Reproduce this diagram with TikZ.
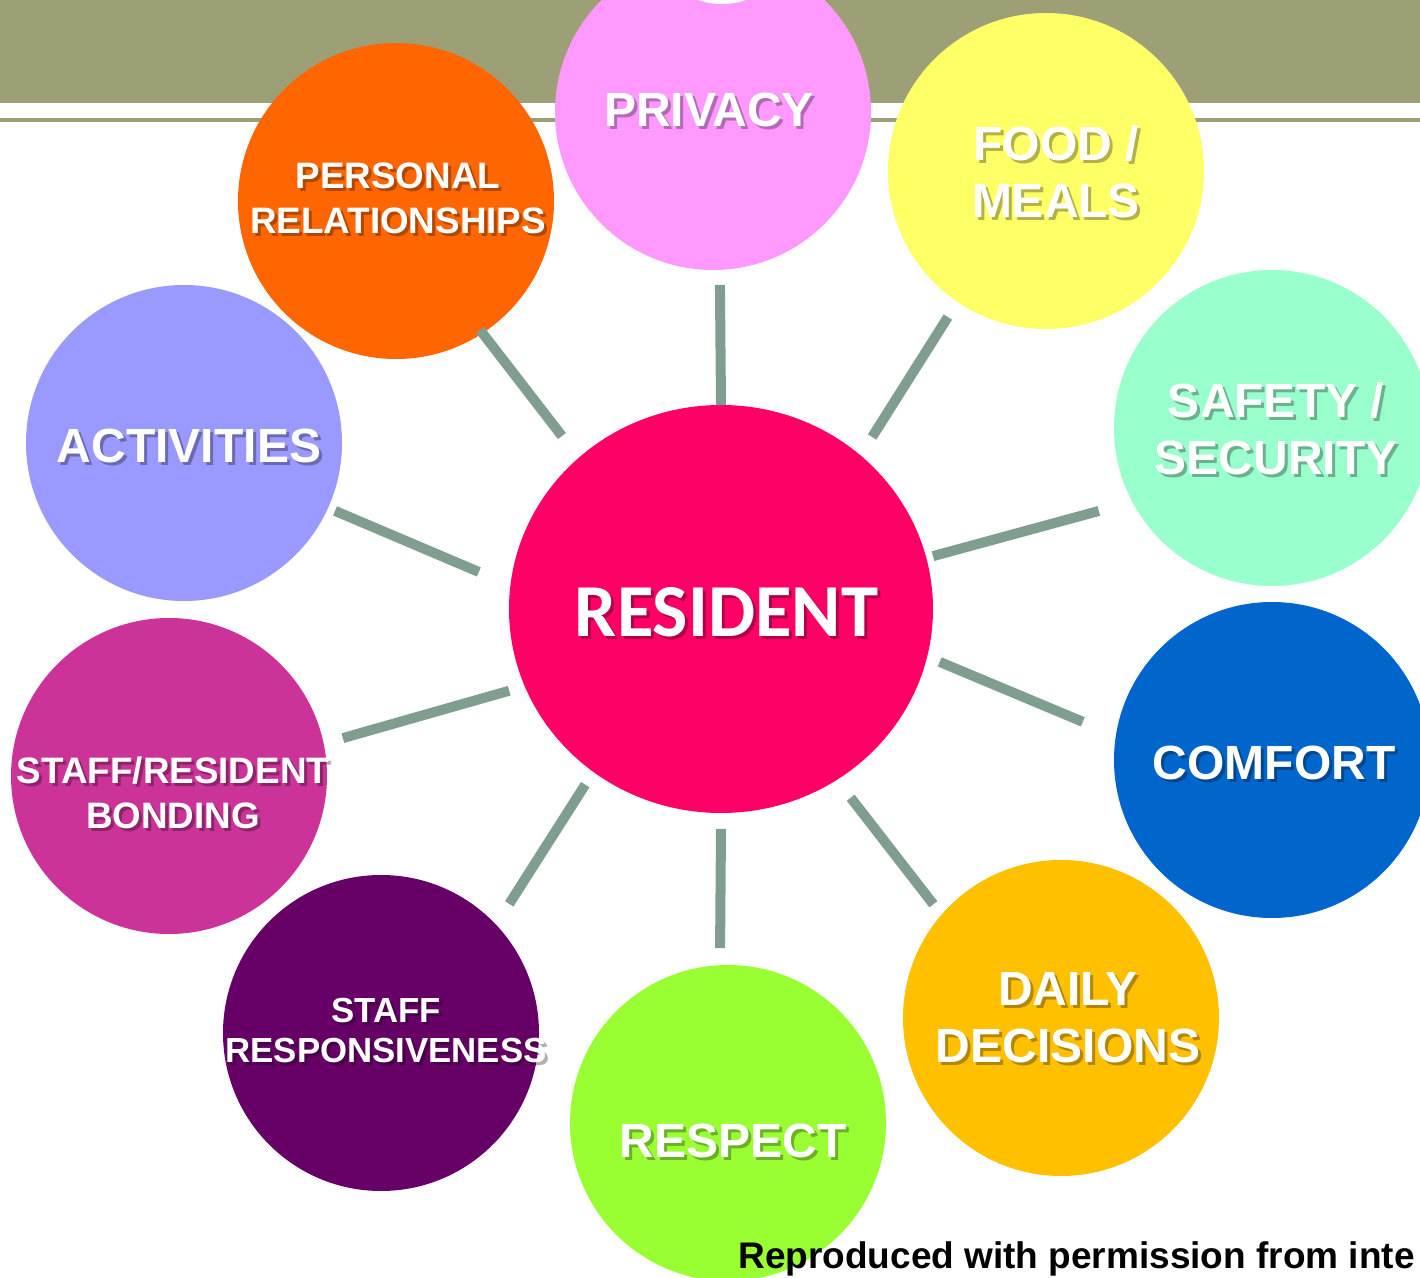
\documentclass[tikz,border=0pt]{standalone}
\usepackage{fontspec}
\setmainfont{Liberation Sans}
\newfontfamily\centrefont{Carlito}
\usetikzlibrary{shapes.geometric,calc}

\definecolor{bandolive}{RGB}{157,160,119}
\definecolor{linkgray}{RGB}{127,158,143}
\definecolor{cPrivacy}{HTML}{FF99FF}
\definecolor{cPersonal}{HTML}{FF6600}
\definecolor{cFood}{HTML}{FFFF66}
\definecolor{cSafety}{HTML}{99FFCC}
\definecolor{cActivities}{HTML}{9999FF}
\definecolor{cResident}{HTML}{FF0066}
\definecolor{cComfort}{HTML}{0066CC}
\definecolor{cBonding}{HTML}{CC3399}
\definecolor{cStaffResp}{HTML}{660066}
\definecolor{cRespect}{HTML}{99FF33}
\definecolor{cDaily}{HTML}{FFC000}

% one coloured bubble with a white caption and a soft drop shadow
% #1 name, #2 centre, #3 fill, #4 caption position, #5 caption style, #6 caption
\newcommand\bubble[6]{%
  \node[bubble,fill=#3] (#1) at (#2) {};
  \node[#5,shadowtext] (#1-shadow) at ($(#4)+(3,3)$) {#6};
  \node[#5] (#1-label) at (#4) {#6};}

\begin{document}
\begin{tikzpicture}[x=0.5pt,y=-0.5pt,
  bubble/.style={circle,minimum size=158pt,inner sep=0pt,outer sep=0pt},
  bigcap/.style={text=white,align=center,inner sep=0pt,
    font=\bfseries\fontsize{24pt}{28.5pt}\selectfont},
  smallcap/.style={text=white,align=center,inner sep=0pt,
    font=\bfseries\fontsize{18.4pt}{22.5pt}\selectfont},
  tinycap/.style={text=white,align=center,inner sep=0pt,
    font=\bfseries\fontsize{17.4pt}{20pt}\selectfont},
  shadowtext/.style={text=black,text opacity=0.3},
  link/.style={draw=linkgray,line width=5pt}]
\useasboundingbox (0,0) rectangle (1420,1278);

% header band
\fill[bandolive] (0,0) rectangle (1420,103);
\fill[bandolive] (0,118) rectangle (1420,122);

% outer bubbles
\bubble{priv}{713,112}{cPrivacy}{709,110}{bigcap}{PRIVACY}
\bubble{pers}{396,201}{cPersonal}{398,198}{smallcap}{PERSONAL\\RELATIONSHIPS}
\bubble{food}{1046,171}{cFood}{1056,172}{bigcap}{FOOD /\\MEALS}
\bubble{safe}{1272,428}{cSafety}{1276,429}{bigcap}{SAFETY /\\SECURITY}
\bubble{act}{184,443}{cActivities}{189,446}{bigcap}{ACTIVITIES}
\bubble{comf}{1272,760}{cComfort}{1274,763}{bigcap}{COMFORT}
\bubble{bond}{169,776}{cBonding}{173,793}{smallcap}{STAFF/RESIDENT\\BONDING}
\bubble{staff}{381,1033}{cStaffResp}{386,1031}{tinycap}{STAFF\\RESPONSIVENESS}
\bubble{resp}{728,1123}{cRespect}{733,1141}{bigcap}{RESPECT}
\bubble{daily}{1061,1018}{cDaily}{1068,1018}{bigcap}{DAILY\\DECISIONS}

% white cap at the top of the privacy bubble
\fill[white] (722,-12) ellipse [x radius=18pt,y radius=8pt];

% centre bubble
\node[ellipse,minimum width=212pt,minimum height=204pt,inner sep=0pt,
      outer sep=0pt,fill=cResident] (res) at (721,609) {};
\node[text=black,text opacity=0.3,inner sep=0pt,
      font=\centrefont\bfseries\fontsize{37.4pt}{40pt}\selectfont]
      (res-shadow) at (729.5,615.5) {RESIDENT};
\node[text=white,inner sep=0pt,
      font=\centrefont\bfseries\fontsize{37.4pt}{40pt}\selectfont]
      (res-label) at (726.5,612.5) {RESIDENT};

% spokes
\draw[link] ($(res)+(-90:204)$)     -- ($(priv)+(87.7:173)$);
\draw[link] ($(res)+(-48.7:229)$)   -- ($(food)+(123.9:176)$);
\draw[link] ($(res)+(-132.6:235)$)  -- ($(pers)+(56.9:154)$);
\draw[link] ($(res)+(-14:218.5)$)   -- ($(safe)+(154.4:192)$);
\draw[link] ($(res)+(-171.3:245)$)  -- ($(act)+(24.2:165.6)$);
\draw[link] ($(res)+(13.6:225)$)    -- ($(comf)+(-168.6:193)$);
\draw[link] ($(res)+(158.9:227)$)   -- ($(bond)+(-12.3:178)$);
\draw[link] ($(res)+(127.7:222)$)   -- ($(staff)+(-45.2:182)$);
\draw[link] ($(res)+(90:220)$)      -- ($(resp)+(-92.6:175)$);
\draw[link] ($(res)+(55.5:229)$)    -- ($(daily)+(-138.3:171)$);

% credit line
\node[anchor=base west,inner sep=0pt,text=black,
      font=\bfseries\fontsize{18.5pt}{22pt}\selectfont]
      (credit) at (738,1268) {Reproduced with permission from inte};
\end{tikzpicture}
\end{document}
